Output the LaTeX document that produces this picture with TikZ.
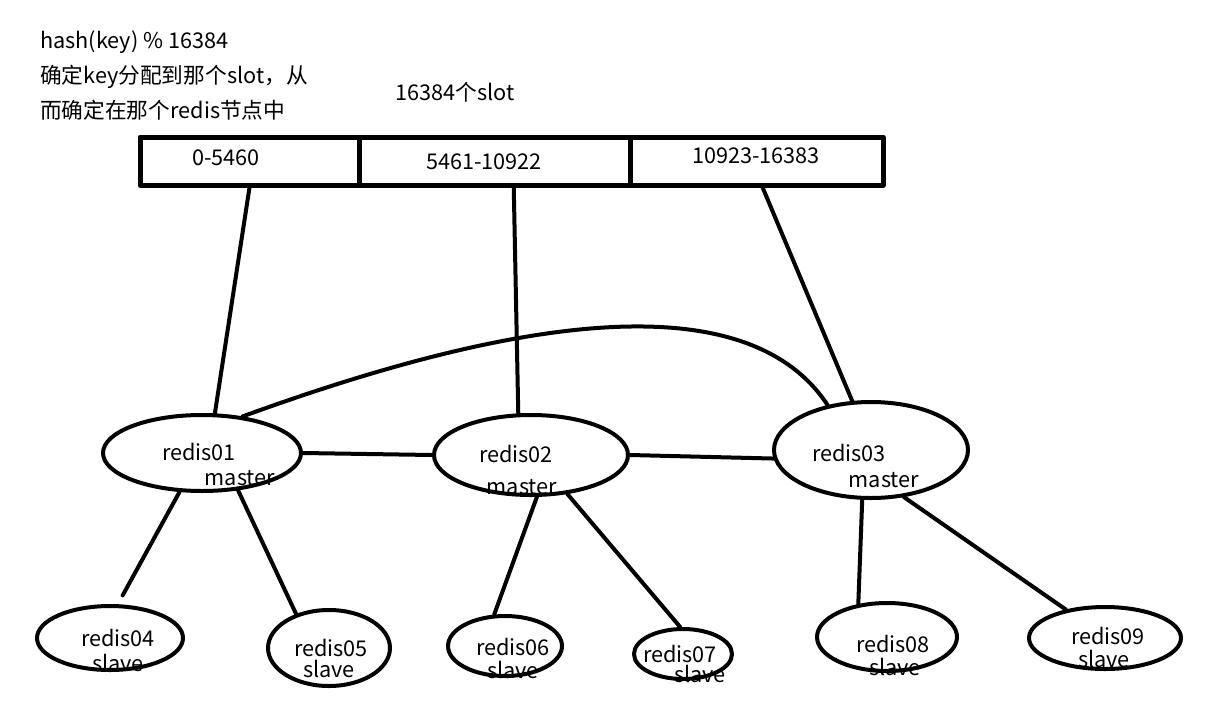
\documentclass[tikz,border=0pt]{standalone}
\usepackage{fontspec}
\setmainfont{Noto Sans CJK SC}
\usetikzlibrary{shapes.geometric}
\tikzset{
 redisnode/.style={draw,ellipse,line width=4pt,inner sep=0pt},
 slotcell/.style={draw,rectangle,line width=5pt,minimum height=48pt,inner sep=0pt},
 link/.style={line width=4pt},
 lbl/.style={inner sep=0pt,font=\fontsize{21.7}{26}\selectfont},
}

\begin{document}
\begin{tikzpicture}[x=1pt,y=-1pt,line cap=round,line join=round]
 \useasboundingbox (0,0) rectangle (1211,724);
 % notes at the top left
 \node[lbl,anchor=base west] (hashline) at (40,48) {hash(key) \% 16384};
 \node[lbl,anchor=base west] (noteone) at (40,83) {确定key分配到那个slot，从};
 \node[lbl,anchor=base west] (notetwo) at (40,118) {而确定在那个redis节点中};
 \node[lbl] (slotcount) at (455,92) {16384个slot};
 % slot ranges
 \node[slotcell,minimum width=219pt] (s1) at (249.5,161) {};
 \node[slotcell,minimum width=271pt] (s2) at (494.5,161) {};
 \node[slotcell,minimum width=253pt] (s3) at (756.5,161) {};
 \node[lbl] (s1txt) at (226,158) {0-5460};
 \node[lbl] (s2txt) at (484,162) {5461-10922};
 \node[lbl] (s3txt) at (756,156) {10923-16383};
 % labels (drawn below the outlines)
 \foreach \x/\y/\lab in {199/452/redis01,240/478/master,516/454/redis02,
   522/487/master,849/453/redis03,884/480/master,118/638/redis04,
   118/663/slave,331/648/redis05,329/669/slave,513/647/redis06,
   513/670/slave,680/654/redis07,700/674/slave,893/644/redis08,
   895/667/slave,1108/636/redis09,1104/659/slave}
  \node[lbl] at (\x,\y) {\lab};
 % masters
 \node[redisnode,minimum width=198pt,minimum height=76pt] (r01) at (202,453) {};
 \node[redisnode,minimum width=194pt,minimum height=80pt] (r02) at (531,455) {};
 \node[redisnode,minimum width=194pt,minimum height=96pt] (r03) at (871,450) {};
 % slaves
 \node[redisnode,minimum width=146pt,minimum height=64pt] (r04) at (110,638) {};
 \node[redisnode,minimum width=122pt,minimum height=76pt] (r05) at (329,648) {};
 \node[redisnode,minimum width=114pt,minimum height=60pt] (r06) at (505,646) {};
 \node[redisnode,minimum width=98pt,minimum height=50pt] (r07) at (683,654) {};
 \node[redisnode,minimum width=140pt,minimum height=68pt] (r08) at (887,637) {};
 \node[redisnode,minimum width=152pt,minimum height=62pt] (r09) at (1105,638) {};
 % slots to masters
 \draw[link] (s1.south) -- (r01.72);
 \draw[link] (s2.-54) -- (r02.107);
 \draw[link] (s3.-77) -- (r03.111);
 % between masters
 \draw[link] (r01.east) -- (r02.west);
 \draw[link] (r02.east) -- (r03.185);
 \draw[link] (r01.42) .. controls (480,330) and (740,272) .. (r03.134);
 % masters to slaves
 \draw[link,shorten >=10pt] (r01.240) -- (r04.77);
 \draw[link] (r01.314) -- (r05.134);
 \draw[link] (r02.278) -- (r06.109);
 \draw[link] (r02.313) -- (r07.96);
 \draw[link] (r03.260) -- (r08.131);
 \draw[link] (r03.305) -- (r09.144);
\end{tikzpicture}
\end{document}
